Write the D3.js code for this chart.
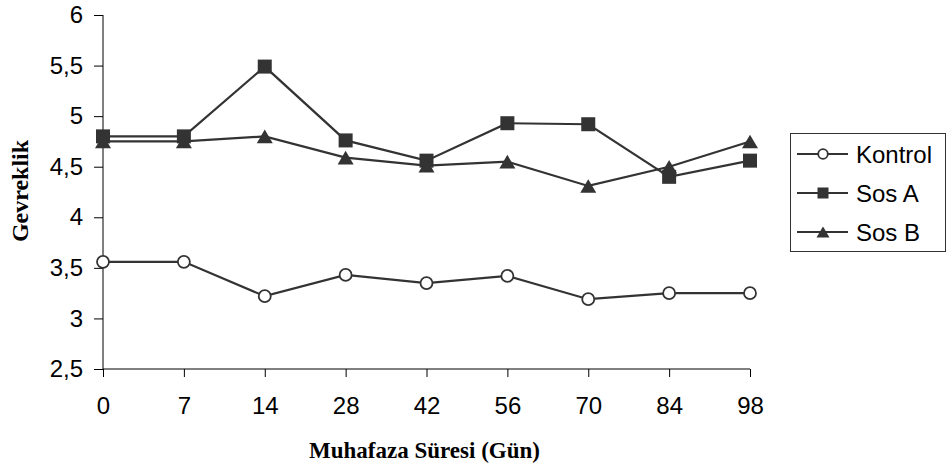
<!DOCTYPE html>
<html>
<head>
<meta charset="utf-8">
<script src="https://cdn.jsdelivr.net/npm/d3@7"></script>
<style>
  body { margin: 0; background: #fff; }
  svg { display: block; }
</style>
</head>
<body>
<div id="chart"></div>
<script>
// data
const days = ["0", "7", "14", "28", "42", "56", "70", "84", "98"];
const kontrol = [3.56, 3.56, 3.22, 3.43, 3.35, 3.42, 3.19, 3.25, 3.25];
const sosA = [4.80, 4.80, 5.49, 4.76, 4.56, 4.93, 4.92, 4.40, 4.56];
const sosB = [4.75, 4.75, 4.80, 4.59, 4.51, 4.55, 4.31, 4.50, 4.75];
const yTicks = [2.5, 3, 3.5, 4, 4.5, 5, 5.5, 6];

const series = [
  { name: "Kontrol", values: kontrol, marker: "circle" },
  { name: "Sos A", values: sosA, marker: "square" },
  { name: "Sos B", values: sosB, marker: "triangle" }
];

const W = 947, H = 467;
const margin = { top: 15, left: 103 };
const width = 647, height = 354;
const ink = "#333";

const svg = d3.select("#chart").append("svg")
  .attr("width", W).attr("height", H);

const g = svg.append("g")
  .attr("transform", `translate(${margin.left},${margin.top})`);

const x = d3.scalePoint().domain(days).range([0, width]).padding(0);
const y = d3.scaleLinear().domain([2.5, 6]).range([height, 0]);

const fmt = d => String(d).replace(".", ",");

// y axis
const yAxis = g.append("g")
  .call(d3.axisLeft(y).tickValues(yTicks).tickFormat(fmt).tickSize(9).tickPadding(11));
// x axis
const xAxis = g.append("g")
  .attr("transform", `translate(0,${height})`)
  .call(d3.axisBottom(x).tickSize(8).tickPadding(20));

[yAxis, xAxis].forEach(a => {
  a.select(".domain").attr("stroke", "#000").attr("stroke-width", 1);
  a.selectAll(".tick line").attr("stroke", "#000");
  a.selectAll("text")
    .attr("fill", "#000")
    .style("font-family", "'Liberation Sans', Arial, sans-serif")
    .style("font-size", "24px");
});
// the y axis in the reference ends at its top tick, no outer tick on x
xAxis.select(".domain").attr("d", `M0,0H${width}`);
yAxis.select(".domain").attr("d", `M0,${height}V0`);

const line = d3.line()
  .x((d, i) => x(days[i]))
  .y(d => y(d));

function drawMarker(sel, type, big) {
  if (type === "circle") {
    sel.append("circle")
      .attr("r", big ? 6 : 4.8)
      .attr("fill", "#fff")
      .attr("stroke", ink)
      .attr("stroke-width", 1.8);
  } else if (type === "square") {
    const s = big ? 14 : 11;
    sel.append("rect")
      .attr("x", -s / 2).attr("y", -s / 2)
      .attr("width", s).attr("height", s)
      .attr("fill", ink);
  } else {
    const s = big ? 16 : 13;
    const h = s * 0.85;
    sel.append("path")
      .attr("d", `M0,${-h / 2}L${s / 2},${h / 2}L${-s / 2},${h / 2}Z`)
      .attr("fill", ink);
  }
}

series.forEach(s => {
  g.append("path")
    .datum(s.values)
    .attr("fill", "none")
    .attr("stroke", ink)
    .attr("stroke-width", 2.2)
    .attr("d", line);

  g.selectAll(null)
    .data(s.values)
    .enter().append("g")
    .attr("transform", (d, i) => `translate(${x(days[i])},${y(d)})`)
    .each(function () { drawMarker(d3.select(this), s.marker, true); });
});

// axis titles
svg.append("text")
  .attr("x", margin.left + width / 2 - 2)
  .attr("y", 458)
  .attr("text-anchor", "middle")
  .style("font-family", "'Liberation Serif', 'Times New Roman', serif")
  .style("font-weight", "bold")
  .style("font-size", "23px")
  .text("Muhafaza Süresi (Gün)");

svg.append("text")
  .attr("transform", `translate(28,${margin.top + height / 2 - 1}) rotate(-90)`)
  .attr("text-anchor", "middle")
  .style("font-family", "'Liberation Serif', 'Times New Roman', serif")
  .style("font-weight", "bold")
  .style("font-size", "24px")
  .text("Gevreklik");

// legend
const legend = svg.append("g").attr("transform", "translate(790,133)");
legend.append("rect")
  .attr("x", 0.5).attr("y", 0.5)
  .attr("width", 155).attr("height", 118)
  .attr("fill", "#fff")
  .attr("stroke", ink)
  .attr("stroke-width", 1);

series.forEach((s, i) => {
  const row = legend.append("g").attr("transform", `translate(0,${21 + i * 39})`);
  row.append("line")
    .attr("x1", 7).attr("x2", 58)
    .attr("stroke", ink).attr("stroke-width", 2);
  const m = row.append("g").attr("transform", "translate(33,0)");
  drawMarker(m, s.marker, false);
  row.append("text")
    .attr("x", 66).attr("y", 8.5)
    .style("font-family", "'Liberation Sans', Arial, sans-serif")
    .style("font-size", "24px")
    .attr("fill", "#000")
    .text(s.name);
});
</script>
</body>
</html>
